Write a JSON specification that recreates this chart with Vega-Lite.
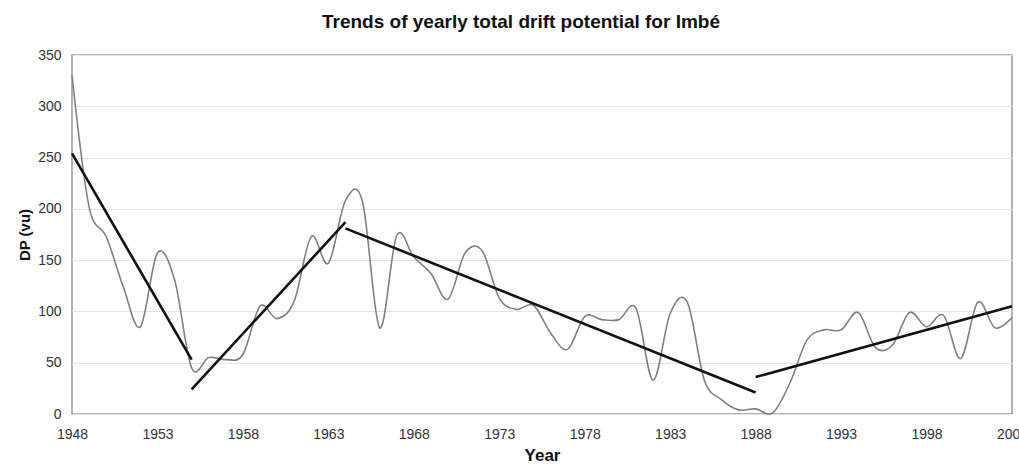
{
  "$schema": "https://vega.github.io/schema/vega-lite/v6.json",
  "autosize": {"type": "none"},
  "width": 940,
  "height": 359,
  "padding": {"left": 72, "top": 55, "right": 7, "bottom": 52},
  "background": "white",
  "title": {
    "text": "Trends of yearly total drift potential for Imbé",
    "font": "Liberation Sans",
    "fontSize": 19,
    "fontWeight": "bold",
    "color": "#111111",
    "anchor": "middle",
    "offset": 16,
    "dx": -21
  },
  "config": {
    "view": {"stroke": "#9a9a9a", "strokeWidth": 1.5},
    "axis": {
      "labelFont": "Liberation Sans",
      "labelFontSize": 14,
      "labelColor": "#333333",
      "titleFont": "Liberation Sans",
      "titleFontWeight": "bold",
      "titleColor": "#111111",
      "ticks": false,
      "domain": false
    }
  },
  "datasets": {
    "dp": [
      {"year": 1948, "dp": 330},
      {"year": 1949, "dp": 202},
      {"year": 1950, "dp": 173},
      {"year": 1951, "dp": 124},
      {"year": 1952, "dp": 85},
      {"year": 1953, "dp": 157},
      {"year": 1954, "dp": 131},
      {"year": 1955, "dp": 45},
      {"year": 1956, "dp": 55},
      {"year": 1957, "dp": 53},
      {"year": 1958, "dp": 58},
      {"year": 1959, "dp": 105},
      {"year": 1960, "dp": 93},
      {"year": 1961, "dp": 110},
      {"year": 1962, "dp": 173},
      {"year": 1963, "dp": 147},
      {"year": 1964, "dp": 208},
      {"year": 1965, "dp": 207},
      {"year": 1966, "dp": 84},
      {"year": 1967, "dp": 174},
      {"year": 1968, "dp": 153},
      {"year": 1969, "dp": 137},
      {"year": 1970, "dp": 112},
      {"year": 1971, "dp": 157},
      {"year": 1972, "dp": 159},
      {"year": 1973, "dp": 113},
      {"year": 1974, "dp": 102},
      {"year": 1975, "dp": 106},
      {"year": 1976, "dp": 79},
      {"year": 1977, "dp": 63},
      {"year": 1978, "dp": 95},
      {"year": 1979, "dp": 92},
      {"year": 1980, "dp": 92},
      {"year": 1981, "dp": 103},
      {"year": 1982, "dp": 33},
      {"year": 1983, "dp": 98},
      {"year": 1984, "dp": 109},
      {"year": 1985, "dp": 33},
      {"year": 1986, "dp": 14},
      {"year": 1987, "dp": 4},
      {"year": 1988, "dp": 5},
      {"year": 1989, "dp": 1},
      {"year": 1990, "dp": 30},
      {"year": 1991, "dp": 72},
      {"year": 1992, "dp": 82},
      {"year": 1993, "dp": 82},
      {"year": 1994, "dp": 99},
      {"year": 1995, "dp": 65},
      {"year": 1996, "dp": 67},
      {"year": 1997, "dp": 99},
      {"year": 1998, "dp": 85},
      {"year": 1999, "dp": 96},
      {"year": 2000, "dp": 54},
      {"year": 2001, "dp": 109},
      {"year": 2002, "dp": 84},
      {"year": 2003, "dp": 94}
    ],
    "trend": [
      {"seg": "1", "year": 1948, "dp": 254},
      {"seg": "1", "year": 1955, "dp": 53},
      {"seg": "2", "year": 1955, "dp": 24},
      {"seg": "2", "year": 1964, "dp": 187},
      {"seg": "3", "year": 1964, "dp": 181},
      {"seg": "3", "year": 1988, "dp": 21},
      {"seg": "4", "year": 1988, "dp": 36},
      {"seg": "4", "year": 2003, "dp": 105}
    ]
  },
  "layer": [
    {
      "data": {"name": "dp"},
      "mark": {"type": "line", "interpolate": "cardinal", "color": "#808080", "strokeWidth": 1.6},
      "encoding": {
        "x": {
          "field": "year",
          "type": "quantitative",
          "scale": {"domain": [1948, 2003], "nice": false, "zero": false},
          "axis": {
            "title": "Year",
            "titleFontSize": 17,
            "values": [1948, 1953, 1958, 1963, 1968, 1973, 1978, 1983, 1988, 1993, 1998, 2003],
            "format": "d",
            "grid": false,
            "labelFlush": false,
            "labelOverlap": false,
            "labelPadding": 13,
            "titlePadding": 6
          }
        },
        "y": {
          "field": "dp",
          "type": "quantitative",
          "scale": {"domain": [0, 350], "nice": false},
          "axis": {
            "title": "DP (vu)",
            "titleFontSize": 15,
            "values": [0, 50, 100, 150, 200, 250, 300, 350],
            "grid": true,
            "gridColor": "#e4e4e4",
            "gridWidth": 1,
            "labelFlush": false,
            "labelPadding": 11,
            "titlePadding": 5
          }
        }
      }
    },
    {
      "data": {"name": "trend"},
      "mark": {"type": "line", "color": "#111111", "strokeWidth": 2.6},
      "encoding": {
        "x": {"field": "year", "type": "quantitative"},
        "y": {"field": "dp", "type": "quantitative"},
        "detail": {"field": "seg", "type": "nominal"}
      }
    }
  ]
}
